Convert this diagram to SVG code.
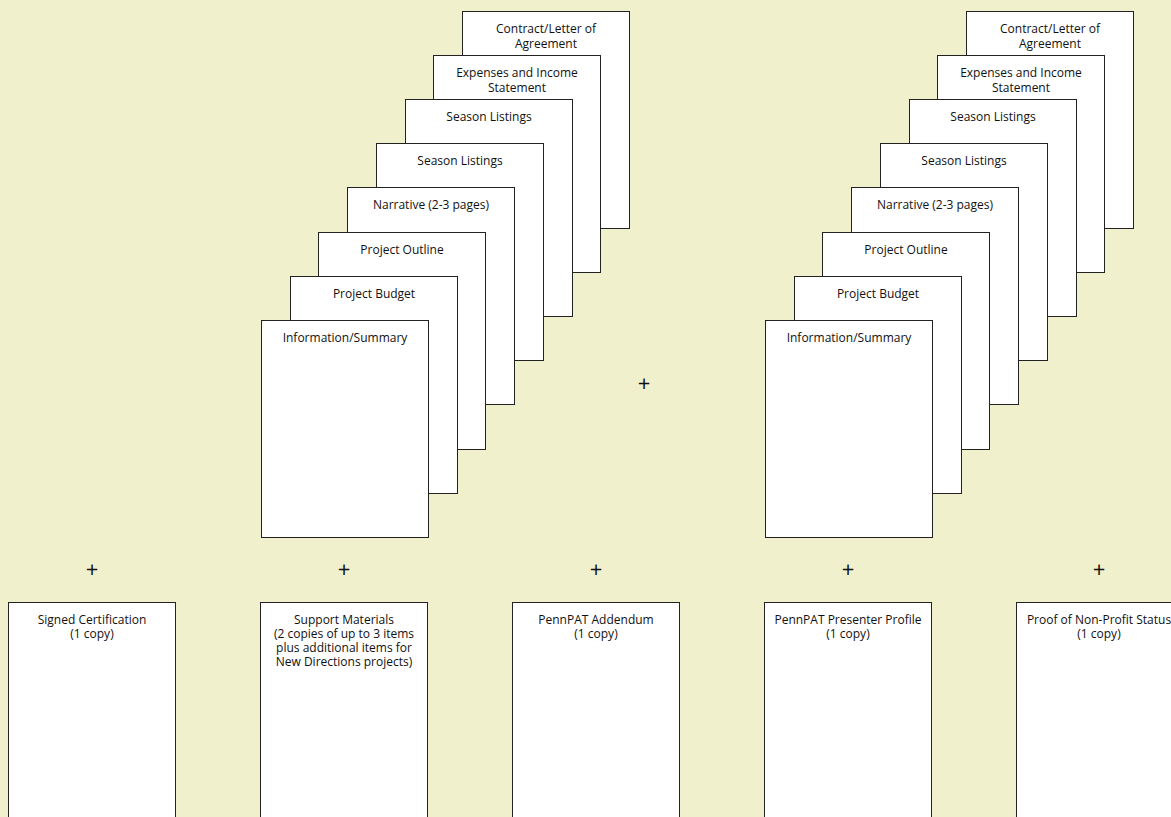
<svg xmlns="http://www.w3.org/2000/svg" width="1171" height="817" viewBox="0 0 1171 817">
<style>
.pg{fill:#fff;stroke:#222;stroke-width:1}
.t{font-family:"Open Sans","Noto Sans",sans-serif;font-size:12px;fill:#111;text-anchor:middle}
.plus{font-family:"Open Sans","Noto Sans",sans-serif;font-size:22px;fill:#111;text-anchor:middle}
</style>
<rect width="1171" height="817" fill="#F0F0CD"/>
<g id="stack-left">
<g id="l-contract"><rect class="pg" x="462.5" y="11.5" width="167" height="217"/><text class="t" x="546" y="32.5">Contract/Letter of</text><text class="t" x="546" y="47.5">Agreement</text></g>
<g id="l-expenses"><rect class="pg" x="433.5" y="55.5" width="167" height="217"/><text class="t" x="517" y="76.5">Expenses and Income</text><text class="t" x="517" y="91.5">Statement</text></g>
<g id="l-season1"><rect class="pg" x="405.5" y="99.5" width="167" height="217"/><text class="t" x="489" y="121">Season Listings</text></g>
<g id="l-season2"><rect class="pg" x="376.5" y="143.5" width="167" height="217"/><text class="t" x="460" y="165">Season Listings</text></g>
<g id="l-narrative"><rect class="pg" x="347.5" y="187.5" width="167" height="217"/><text class="t" x="431" y="209">Narrative (2-3 pages)</text></g>
<g id="l-outline"><rect class="pg" x="318.5" y="232.5" width="167" height="217"/><text class="t" x="402" y="254">Project Outline</text></g>
<g id="l-budget"><rect class="pg" x="290.5" y="276.5" width="167" height="217"/><text class="t" x="374" y="298">Project Budget</text></g>
<g id="l-info"><rect class="pg" x="261.5" y="320.5" width="167" height="217"/><text class="t" x="345" y="342">Information/Summary</text></g>
</g>
<g id="stack-right">
<g id="r-contract"><rect class="pg" x="966.5" y="11.5" width="167" height="217"/><text class="t" x="1050" y="32.5">Contract/Letter of</text><text class="t" x="1050" y="47.5">Agreement</text></g>
<g id="r-expenses"><rect class="pg" x="937.5" y="55.5" width="167" height="217"/><text class="t" x="1021" y="76.5">Expenses and Income</text><text class="t" x="1021" y="91.5">Statement</text></g>
<g id="r-season1"><rect class="pg" x="909.5" y="99.5" width="167" height="217"/><text class="t" x="993" y="121">Season Listings</text></g>
<g id="r-season2"><rect class="pg" x="880.5" y="143.5" width="167" height="217"/><text class="t" x="964" y="165">Season Listings</text></g>
<g id="r-narrative"><rect class="pg" x="851.5" y="187.5" width="167" height="217"/><text class="t" x="935" y="209">Narrative (2-3 pages)</text></g>
<g id="r-outline"><rect class="pg" x="822.5" y="232.5" width="167" height="217"/><text class="t" x="906" y="254">Project Outline</text></g>
<g id="r-budget"><rect class="pg" x="794.5" y="276.5" width="167" height="217"/><text class="t" x="878" y="298">Project Budget</text></g>
<g id="r-info"><rect class="pg" x="765.5" y="320.5" width="167" height="217"/><text class="t" x="849" y="342">Information/Summary</text></g>
</g>
<g id="bottom-row">
<g id="b-cert"><rect class="pg" x="8.5" y="602.5" width="167" height="230"/><text class="t" x="92" y="624">Signed Certification</text><text class="t" x="92" y="638">(1 copy)</text></g>
<g id="b-support"><rect class="pg" x="260.5" y="602.5" width="167" height="230"/><text class="t" x="344" y="624">Support Materials</text><text class="t" x="344" y="638">(2 copies of up to 3 items</text><text class="t" x="344" y="652">plus additional items for</text><text class="t" x="344" y="666">New Directions projects)</text></g>
<g id="b-addendum"><rect class="pg" x="512.5" y="602.5" width="167" height="230"/><text class="t" x="596" y="624">PennPAT Addendum</text><text class="t" x="596" y="638">(1 copy)</text></g>
<g id="b-profile"><rect class="pg" x="764.5" y="602.5" width="167" height="230"/><text class="t" x="848" y="624">PennPAT Presenter Profile</text><text class="t" x="848" y="638">(1 copy)</text></g>
<g id="b-proof"><rect class="pg" x="1016.5" y="602.5" width="167" height="230"/><text class="t" x="1099" y="624">Proof of Non-Profit Status</text><text class="t" x="1099" y="638">(1 copy)</text></g>
</g>
<g id="plus-signs">
<text class="plus" x="644" y="390.5">+</text>
<text class="plus" x="92" y="576.5">+</text>
<text class="plus" x="344" y="576.5">+</text>
<text class="plus" x="596" y="576.5">+</text>
<text class="plus" x="848" y="576.5">+</text>
<text class="plus" x="1099" y="576.5">+</text>
</g>
</svg>
